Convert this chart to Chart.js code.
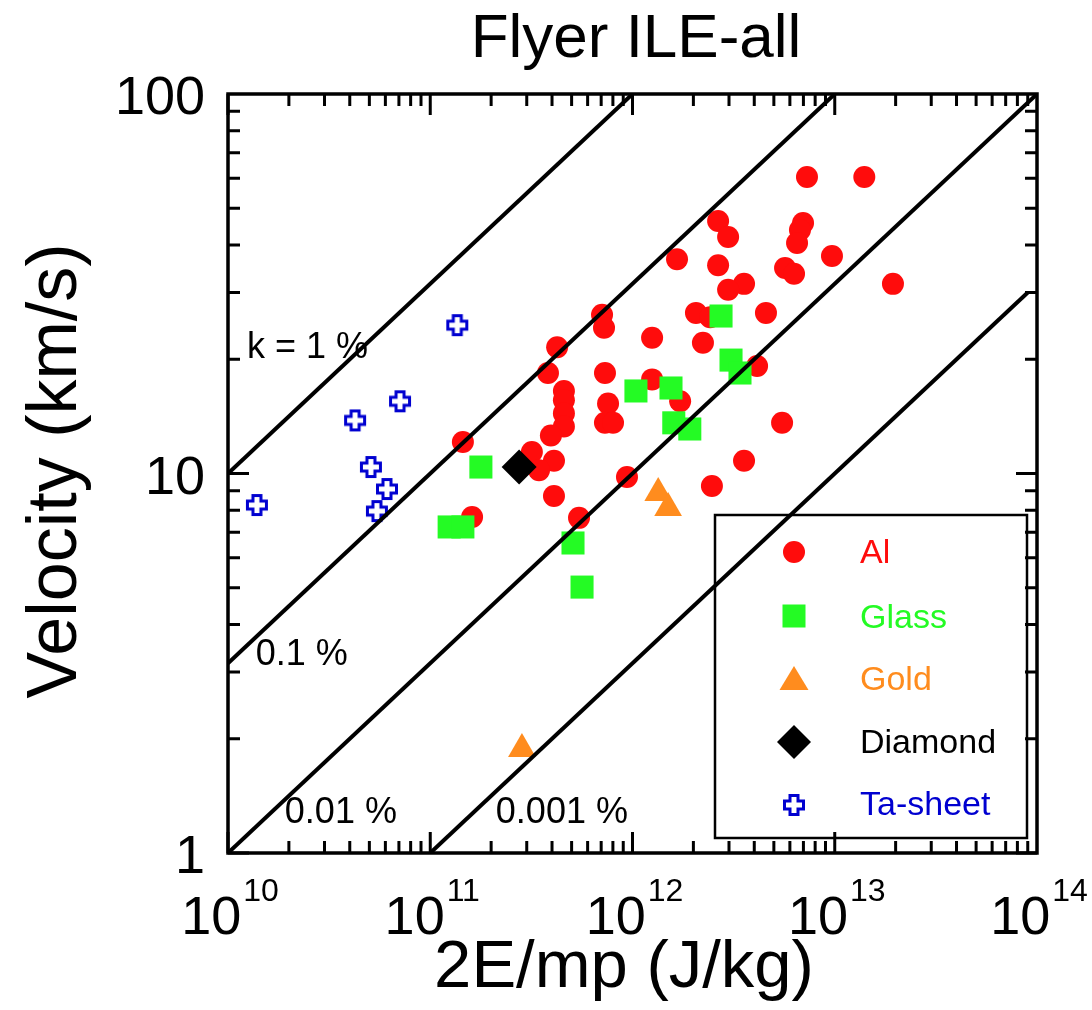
<!DOCTYPE html>
<html>
<head>
<meta charset="utf-8">
<title>Flyer ILE-all</title>
<script src="https://cdn.jsdelivr.net/npm/chart.js@4.4.1/dist/chart.umd.min.js"></script>
<style>
  html, body { margin: 0; padding: 0; background: #fff; }
  #wrap { width: 1092px; height: 1010px; }
</style>
</head>
<body>
<div id="wrap"><canvas id="flyerChart" width="1092" height="1010"></canvas></div>
<script>
// values (x: 2E/mp in J/kg, y: velocity in km/s)
const alX = [7.29e12, 1.40e13, 2.65e12, 2.97e12, 6.97e12, 6.73e12, 6.51e12, 1.66e12, 2.65e12, 9.69e12,
             5.68e12, 6.29e12, 3.56e12, 2.97e12, 1.94e13, 2.06e12, 2.42e12, 4.57e12, 1.25e12, 2.23e12,
             1.25e12, 1.72e12, 4.13e12, 5.49e12, 3.56e12, 2.47e12, 9.39e11, 7.57e11, 7.31e11, 8.01e11,
             7.07e11, 7.23e11, 4.24e11, 3.82e11, 7.31e11, 4.58e11, 4.58e11, 4.58e11, 4.58e11, 3.95e11,
             1.45e11, 3.18e11, 4.09e11, 3.45e11, 4.09e11, 1.61e11, 5.44e11];
const alY = [60.4, 60.4, 46.3, 42.0, 45.7, 43.8, 40.5, 36.7, 35.4, 37.4,
             34.8, 33.6, 31.6, 30.5, 31.6, 26.5, 25.8, 26.5, 22.8, 22.1,
             17.7, 15.5, 19.2, 13.6, 10.8, 9.27, 9.79, 15.3, 13.6, 13.6,
             26.2, 24.2, 21.5, 18.4, 18.4, 16.5, 15.6, 14.4, 13.3, 12.6,
             12.1, 11.4, 10.8, 10.2, 8.72, 7.68, 7.64];

const glassX = [2.74e12, 3.07e12, 3.40e12, 1.04e12, 1.55e12, 1.60e12, 1.92e12, 1.78e11, 1.24e11, 1.45e11, 5.08e11, 5.63e11];
const glassY = [26.0, 19.9, 18.4, 16.5, 16.8, 13.6, 13.1, 10.4, 7.23, 7.23, 6.56, 5.02];

const goldX = [1.34e12, 1.50e12, 2.84e11];
const goldY = [8.89, 8.11, 1.88];

const diamondX = [2.75e11];
const diamondY = [10.4];

const taX = [7.09e10, 4.25e10, 5.09e10, 6.11e10, 5.45e10, 1.39e10, 1.36e11];
const taY = [15.5, 13.8, 10.4, 9.10, 7.96, 8.26, 24.6];

// constant-efficiency guide lines (end points)
const k1X = [1e10, 1e12],   k1Y = [10, 100];
const k01X = [1e10, 1e13],  k01Y = [3.162, 100];
const k001X = [1e10, 1e14], k001Y = [1, 100];
const k0001X = [1e11, 9e13], k0001Y = [1, 30];

const kLabels = ['k = 1 %', '0.1 %', '0.01 %', '0.001 %'];
const kLabelX = [1.24e10, 1.37e10, 1.91e10, 2.11e11];
const kLabelY = [20.2, 3.13, 1.2, 1.2];

const xTickExp = [10, 11, 12, 13, 14];
const yTickVals = [1, 10, 100];
const seriesNames = ['Al', 'Glass', 'Gold', 'Diamond', 'Ta-sheet'];

const FONT = "'Liberation Sans', Arial, Helvetica, sans-serif";
const RED = '#ff0c0c', GREEN = '#24fb24', ORANGE = '#ff8c1e', BLUE = '#0000d0';

function pts(xs, ys) {
    return xs.map((x, i) => ({ x: x, y: ys[i] }));
}

// hollow plus used for the Ta-sheet points
function makeCross(size) {
    const c = document.createElement('canvas');
    c.width = size; c.height = size;
    const g = c.getContext('2d');
    const m = size / 2, a = 4, L = 9.5;
    g.translate(m, m);
    g.beginPath();
    g.moveTo(-a, -L); g.lineTo(a, -L); g.lineTo(a, -a); g.lineTo(L, -a);
    g.lineTo(L, a); g.lineTo(a, a); g.lineTo(a, L); g.lineTo(-a, L);
    g.lineTo(-a, a); g.lineTo(-L, a); g.lineTo(-L, -a); g.lineTo(-a, -a);
    g.closePath();
    g.fillStyle = '#fff';
    g.fill();
    g.lineWidth = 3;
    g.strokeStyle = BLUE;
    g.stroke();
    return c;
}
const crossImg = makeCross(26);

function guide(xs, ys) {
    return {
        type: 'line', data: pts(xs, ys), borderColor: '#000', borderWidth: 4,
        pointRadius: 0, fill: false, tension: 0
    };
}

const framePlugin = {
    id: 'frame',
    afterDraw(chart) {
        const ctx = chart.ctx;
        const xs = chart.scales.x, ys = chart.scales.y;
        const { left, right, top, bottom } = chart.chartArea;
        ctx.save();
        ctx.strokeStyle = '#000';
        ctx.fillStyle = '#000';

        // ticks, pointing inwards on all four sides
        ctx.lineWidth = 3;
        ctx.beginPath();
        for (let d = 10; d <= 13; d++) {
            for (let m = 1; m <= 9; m++) {
                const v = m * Math.pow(10, d);
                const len = m === 1 ? 21 : 12;
                const px = xs.getPixelForValue(v);
                ctx.moveTo(px, bottom); ctx.lineTo(px, bottom - len);
                ctx.moveTo(px, top); ctx.lineTo(px, top + len);
            }
        }
        for (let d = 0; d <= 1; d++) {
            for (let m = 1; m <= 9; m++) {
                const v = m * Math.pow(10, d);
                const len = m === 1 ? 21 : 12;
                const py = ys.getPixelForValue(v);
                ctx.moveTo(left, py); ctx.lineTo(left + len, py);
                ctx.moveTo(right, py); ctx.lineTo(right - len, py);
            }
        }
        ctx.stroke();

        ctx.lineWidth = 3.5;
        ctx.strokeRect(left, top, right - left, bottom - top);

        // y tick labels
        ctx.font = '54px ' + FONT;
        ctx.textAlign = 'right';
        ctx.textBaseline = 'alphabetic';
        yTickVals.forEach(v => {
            ctx.fillText(String(v), left - 23, ys.getPixelForValue(v) + 20);
        });

        // x tick labels as 10 with a raised exponent
        ctx.textAlign = 'left';
        xTickExp.forEach(e => {
            const px = xs.getPixelForValue(Math.pow(10, e));
            ctx.font = '54px ' + FONT;
            const bw = ctx.measureText('10').width;
            ctx.font = '32px ' + FONT;
            const ew = ctx.measureText(String(e)).width;
            const start = px - (bw + ew + 2) / 2 + 2;
            ctx.font = '54px ' + FONT;
            ctx.fillText('10', start, bottom + 81);
            ctx.font = '32px ' + FONT;
            ctx.fillText(String(e), start + bw + 2, bottom + 48);
        });

        // guide line labels
        ctx.font = '36px ' + FONT;
        kLabels.forEach((t, i) => {
            ctx.fillText(t, xs.getPixelForValue(kLabelX[i]), ys.getPixelForValue(kLabelY[i]));
        });

        // titles
        ctx.textAlign = 'center';
        ctx.font = '62px ' + FONT;
        ctx.fillText('Flyer ILE-all', 636, 57);
        ctx.font = '67px ' + FONT;
        ctx.fillText('2E/mp (J/kg)', 624, 987);
        ctx.save();
        ctx.translate(76, 471);
        ctx.rotate(-Math.PI / 2);
        ctx.font = '70px ' + FONT;
        ctx.fillText('Velocity (km/s)', 0, 0);
        ctx.restore();

        // legend box
        const bx = 715, by = 515, bw2 = 312, bh = 323;
        ctx.lineWidth = 2.5;
        ctx.strokeRect(bx, by, bw2, bh);
        const mx = 794, tx = 860;
        const rowBase = [563, 628, 690, 753, 815];
        const rowMid = [552, 616, 680, 742, 805];
        const colors = [RED, GREEN, ORANGE, '#000', BLUE];

        ctx.fillStyle = RED;
        ctx.beginPath(); ctx.arc(mx, rowMid[0], 11, 0, Math.PI * 2); ctx.fill();
        ctx.fillStyle = GREEN;
        ctx.fillRect(mx - 11.5, rowMid[1] - 11.5, 23, 23);
        ctx.fillStyle = ORANGE;
        ctx.beginPath();
        ctx.moveTo(mx, rowMid[2] - 14); ctx.lineTo(mx + 14.5, rowMid[2] + 10); ctx.lineTo(mx - 14.5, rowMid[2] + 10);
        ctx.closePath(); ctx.fill();
        ctx.fillStyle = '#000';
        ctx.beginPath();
        ctx.moveTo(mx, rowMid[3] - 17); ctx.lineTo(mx + 17, rowMid[3]); ctx.lineTo(mx, rowMid[3] + 17); ctx.lineTo(mx - 17, rowMid[3]);
        ctx.closePath(); ctx.fill();
        ctx.drawImage(crossImg, mx - crossImg.width / 2, rowMid[4] - crossImg.height / 2);

        ctx.font = '34px ' + FONT;
        ctx.textAlign = 'left';
        seriesNames.forEach((n, i) => {
            ctx.fillStyle = colors[i];
            ctx.fillText(n, tx, rowBase[i]);
        });
        ctx.restore();
    }
};

const ctx = document.getElementById('flyerChart').getContext('2d');
new Chart(ctx, {
    type: 'scatter',
    data: {
        datasets: [
            guide(k1X, k1Y),
            guide(k01X, k01Y),
            guide(k001X, k001Y),
            guide(k0001X, k0001Y),
            { label: 'Diamond', data: pts(diamondX, diamondY), pointStyle: 'rectRot', pointRadius: 17.5,
              backgroundColor: '#000', borderWidth: 0 },
            { label: 'Ta-sheet', data: pts(taX, taY), pointStyle: crossImg, pointRadius: 12 },
            { label: 'Gold', data: pts(goldX, goldY), pointStyle: 'triangle', pointRadius: 16,
              backgroundColor: ORANGE, borderWidth: 0 },
            { label: 'Glass', data: pts(glassX, glassY), pointStyle: 'rect', pointRadius: 16.3,
              backgroundColor: GREEN, borderWidth: 0 },
            { label: 'Al', data: pts(alX, alY), pointStyle: 'circle', pointRadius: 11,
              backgroundColor: RED, borderWidth: 0 }
        ]
    },
    options: {
        responsive: false,
        animation: false,
        layout: { padding: { left: 228, right: 55, top: 94, bottom: 157 } },
        scales: {
            x: { type: 'logarithmic', min: 1e10, max: 1e14, display: false },
            y: { type: 'logarithmic', min: 1, max: 100, display: false }
        },
        plugins: {
            legend: { display: false },
            title: { display: false },
            tooltip: { enabled: false }
        }
    },
    plugins: [framePlugin]
});
</script>
</body>
</html>
